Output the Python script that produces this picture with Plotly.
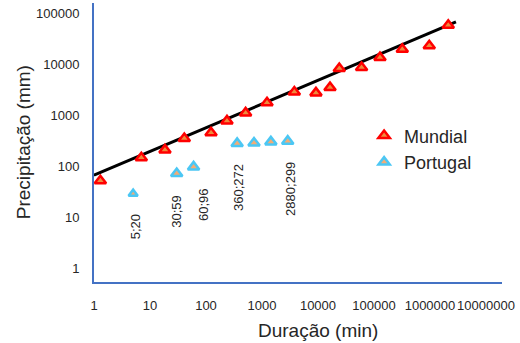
import math
import plotly.graph_objects as go

# ---- data ----
mundial_x = [1.3, 7, 18.5, 41, 123, 237, 510, 1230, 3780, 9200, 16400, 24000, 60000, 128000, 320000, 970000, 2120000]
mundial_y = [52, 147, 209, 349, 454, 773, 1110, 1760, 2860, 2740, 3490, 8240, 8610, 13500, 19700, 22900, 58200]

portugal_x = [5, 30, 60, 360, 720, 1440, 2880]
portugal_y = [29, 72, 97, 280, 285, 300, 310]

label_x = [5, 30, 60, 360, 2880]
label_y = [29, 72, 97, 280, 310]
label_text = ["5;20", "30;59", "60;96", "360;272", "2880;299"]

trend_x = [1, 2910000]
trend_y = [66.7, 67500]

x_ticks = [1, 10, 100, 1000, 10000, 100000, 1000000, 10000000]
y_ticks = [1, 10, 100, 1000, 10000, 100000]

FONT = "Arial, Liberation Sans, sans-serif"
TXT = "#262626"
AXIS = "#4472C4"

fig = go.Figure()

fig.add_trace(go.Scatter(
    x=trend_x, y=trend_y, mode="lines",
    line=dict(color="black", width=3), showlegend=False, hoverinfo="skip"))

fig.add_trace(go.Scatter(
    x=mundial_x, y=mundial_y, mode="markers", name="Mundial",
    marker=dict(symbol="triangle-up", size=10, color="#EE8A3C",
                line=dict(color="#FF0000", width=2.5))))

fig.add_trace(go.Scatter(
    x=portugal_x, y=portugal_y, mode="markers", name="Portugal",
    marker=dict(symbol="triangle-up", size=[8, 10, 10, 10, 10, 10, 10], color="#EE8A3C",
                line=dict(color="#00B0F0", width=2.5))))

xshifts = [2, 0, 10, 2, 2]
for xv, yv, t, xs in zip(label_x, label_y, label_text, xshifts):
    fig.add_annotation(
        x=math.log10(xv), y=math.log10(yv), text=t, showarrow=False,
        textangle=-90, xanchor="center", yanchor="top", yshift=-19, xshift=xs,
        font=dict(family=FONT, size=13, color=TXT))

# axis titles
fig.add_annotation(
    xref="paper", yref="paper", x=0, y=0.501, xshift=-71, text="Precipitação (mm)",
    textangle=-90, showarrow=False, xanchor="center", yanchor="middle",
    font=dict(family=FONT, size=19, color=TXT))
fig.add_annotation(
    xref="paper", yref="paper", x=0.549, y=0, yshift=-48, text="Duração (min)",
    showarrow=False, xanchor="center", yanchor="middle",
    font=dict(family=FONT, size=19, color=TXT))

fig.update_layout(
    width=520, height=343,
    margin=dict(l=94, r=18, t=3, b=61, autoexpand=False),
    paper_bgcolor="white", plot_bgcolor="white",
    font=dict(family=FONT, color=TXT),
    legend=dict(x=0.662, y=0.59, xanchor="left", yanchor="top",
                font=dict(family=FONT, size=18, color=TXT),
                bgcolor="rgba(0,0,0,0)", tracegroupgap=0),
)

fig.update_xaxes(
    type="log", range=[0, 7.286], tickvals=x_ticks,
    ticktext=[str(v) for v in x_ticks], tickangle=0, automargin=False,
    showgrid=False, zeroline=False, showline=True, linecolor=AXIS, linewidth=1.5,
    ticks="", tickfont=dict(family=FONT, size=13, color=TXT), ticklabelstandoff=11)

fig.update_yaxes(
    type="log", range=[-0.27, 5.2], tickvals=y_ticks,
    ticktext=[str(v) for v in y_ticks], automargin=False,
    showgrid=False, zeroline=False, showline=True, linecolor=AXIS, linewidth=2,
    ticks="", tickfont=dict(family=FONT, size=13, color=TXT), ticklabelstandoff=10)

fig.write_html("out.html", config={"displayModeBar": False},
               post_script="document.body.style.margin='0';")
